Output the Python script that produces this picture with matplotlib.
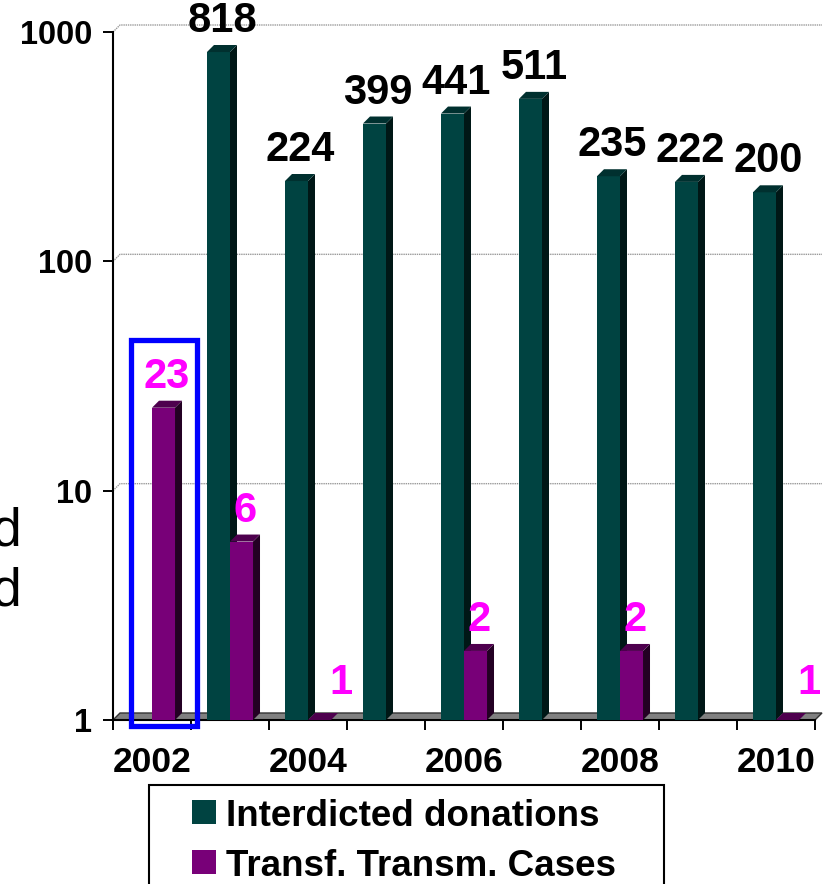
import matplotlib as mpl
import matplotlib.pyplot as plt
import numpy as np

mpl.rcParams["font.family"] = ["Liberation Sans", "DejaVu Sans"]

years = [2002, 2003, 2004, 2005, 2006, 2007, 2008, 2009, 2010]
interdicted = [np.nan, 818, 224, 399, 441, 511, 235, 222, 200]
transmissions = [23, 6, 1, np.nan, 2, np.nan, 2, np.nan, 1]
year_labels = ["2002", "", "2004", "", "2006", "", "2008", "", "2010"]
series_names = ["Interdicted donations", "Transf. Transm. Cases"]

GREEN = ("#004341", "#001716", "#00302f")   # front, side, top
PURPLE = ("#780078", "#230023", "#4e004e")

W, H = 829, 884
fig = plt.figure(figsize=(W / 100, H / 100), dpi=100)
ax = fig.add_axes([113 / W, 1 - 720 / H, (815 - 113) / W, (720 - 32) / H])

ax.set_yscale("log")
ax.set_ylim(1, 1000)
ax.set_xlim(-0.5, len(years) - 0.5)

# 3d depth (data units): ~7 px right, ~7 px up
dx = 7 / 78
fy = 10 ** (7 / 229.3)
bw = 0.295

x = np.arange(len(years))
x0, x1 = -0.5, len(years) - 0.5

# back wall grid lines
for gy in [10, 100, 1000]:
    ax.plot([x0, x0 + dx, x1 + dx], [gy, gy * fy, gy * fy],
            color="#9a9a9a", lw=1, ls=(0, (1, 0.6)), clip_on=False, zorder=1)

# floor
floor = mpl.patches.Polygon([(x0, 1), (x1, 1), (x1 + dx, fy), (x0 + dx, fy)],
                            closed=True, facecolor="#808080",
                            edgecolor="#333333", lw=1, clip_on=False,
                            zorder=2)
ax.add_patch(floor)


def bar3d(xc, v, colors, label=None):
    front, side, top = colors
    xl, xr = xc - bw / 2, xc + bw / 2
    b = ax.bar(xc, v - 1, width=bw, bottom=1, color=front, lw=0,
               zorder=3, label=label)
    ax.add_patch(mpl.patches.Polygon(
        [(xr, 1), (xr + dx, fy), (xr + dx, v * fy), (xr, v)],
        facecolor=side, edgecolor="none", zorder=3, clip_on=False))
    ax.add_patch(mpl.patches.Polygon(
        [(xl, v), (xl + dx, v * fy), (xr + dx, v * fy), (xr, v)],
        facecolor=top, edgecolor="none", zorder=3, clip_on=False))
    return b


for i in range(len(years)):
    for v, xc, colors, tcolor in [
            (interdicted[i], x[i] - bw / 2, GREEN, "black"),
            (transmissions[i], x[i] + bw / 2, PURPLE, "#ff00ff")]:
        if np.isnan(v):
            continue
        bar3d(xc, v, colors)
        # labels of flat bars are pushed aside by the original layout
        off = (18, 10) if v == 1 else (0, 4)
        ax.annotate("{:g}".format(v), xy=(xc + dx / 2, v * fy),
                    xytext=off, textcoords="offset pixels",
                    ha="center", va="bottom", fontsize=30,
                    fontweight="bold", color=tcolor, zorder=5,
                    annotation_clip=False)

# highlight box around 2002
box = mpl.patches.Rectangle((-0.27, 0.94), 0.847, 45.4 - 0.94,
                            facecolor="none", edgecolor="#0000ff", lw=3.8,
                            clip_on=False, zorder=6)
ax.add_patch(box)

# axes
for s in ["top", "right"]:
    ax.spines[s].set_visible(False)
ax.spines["left"].set_linewidth(1.5)
ax.spines["bottom"].set_linewidth(1.5)
ax.spines["left"].set_zorder(4)

ax.set_yticks([1, 10, 100, 1000])
ax.set_yticklabels(["1", "10", "100", "1000"])
ax.yaxis.set_minor_locator(mpl.ticker.NullLocator())
ax.tick_params(axis="y", which="major", direction="out", length=7.2,
               width=1.4, pad=8, labelsize=23.5)
for t in ax.get_yticklabels():
    t.set_fontweight("bold")

ax.set_xticks(np.arange(len(years) + 1) - 0.5)
ax.set_xticklabels([])
ax.set_xticks(x, minor=True)
ax.set_xticklabels(year_labels, minor=True, fontsize=25.5, fontweight="bold")
ax.tick_params(axis="x", which="major", direction="out", length=7.2,
               width=1.4)
ax.tick_params(axis="x", which="minor", length=0, pad=19)

# cut-off axis title at the left edge
fig.text(-8 / W, 1 - 546 / H, "d", fontsize=38.5, va="baseline", ha="left")
fig.text(-8 / W, 1 - 606 / H, "d", fontsize=38.5, va="baseline", ha="left")

# legend (frame runs off the bottom of the picture)
fig.patches.append(mpl.patches.Rectangle(
    (149 / W, -0.05), (664 - 149) / W, 1 - 785 / H + 0.05,
    transform=fig.transFigure, facecolor="white", edgecolor="black",
    lw=1.5, figure=fig))
for k, (name, colors) in enumerate(zip(series_names, [GREEN, PURPLE])):
    yc = 812 + 50 * k
    fig.patches.append(mpl.patches.Rectangle(
        (192 / W, 1 - (yc + 12) / H), 24 / W, 24 / H,
        transform=fig.transFigure, facecolor=colors[0], edgecolor="none",
        figure=fig))
    fig.text(226 / W, 1 - yc / H, name, fontsize=26.5, fontweight="bold",
             va="center_baseline", ha="left")

fig.savefig("out.png", dpi=100)
